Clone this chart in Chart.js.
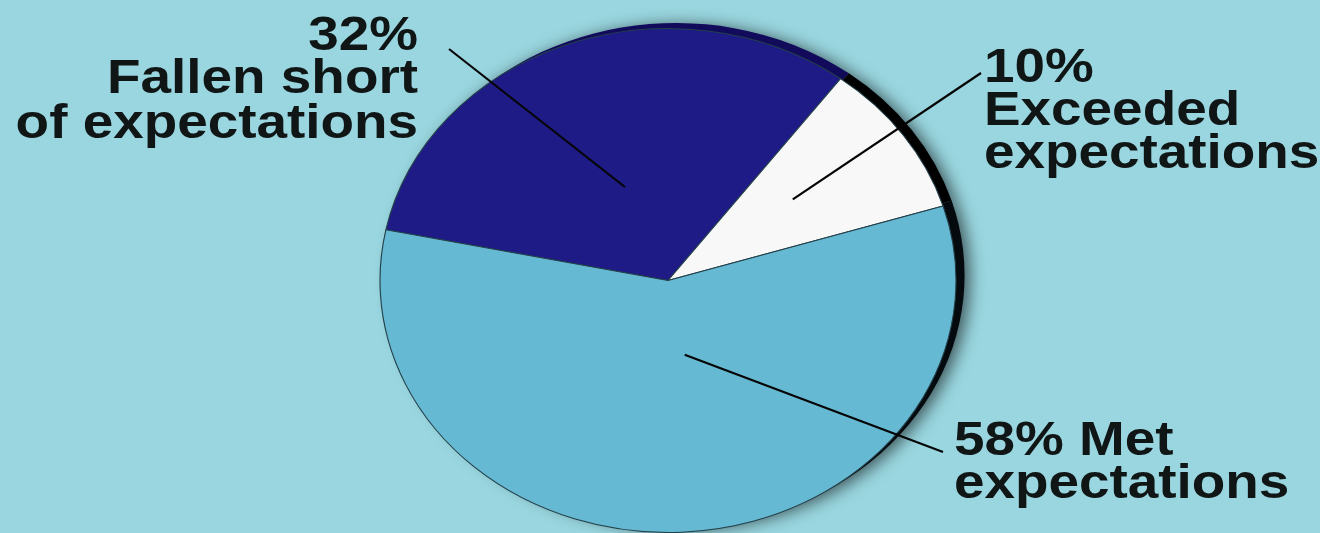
<!DOCTYPE html>
<html>
<head>
<meta charset="utf-8">
<script src="https://cdn.jsdelivr.net/npm/chart.js@4.4.1/dist/chart.umd.min.js"></script>
<style>
  html, body { margin: 0; padding: 0; background: #99d6df; overflow: hidden; }
  #wrap { width: 1320px; height: 533px; }
</style>
</head>
<body>
<div id="wrap"><canvas id="myChart" width="1320" height="533"></canvas></div>
<script>
// data
const categories = ["Fallen short of expectations", "Exceeded expectations", "Met expectations"];
const values = [32, 10, 58];
const labelLines = [["Fallen short", "of expectations"], ["Exceeded", "expectations"], ["Met", "expectations"]];

const sliceColors = ["#1e1a86", "#f8f8f8", "#66b9d3"];
const rimColors = ["#120b5c", "#000000", "#040a0d"];
const stretchX = 288 / 252; // the picture is wider than tall

// where each label sits and where its leader starts (screen px)
const labelLayout = [
  { x: 418, y: [50, 93, 138], align: "right", lineFrom: [449, 49], along: 0.49, depth: 0.40, inline: false },
  { x: 984, y: [82, 125, 168], align: "left", lineFrom: [981, 73], along: 0.46, depth: 0.54, inline: false },
  { x: 954, y: [455, 498], align: "left", lineFrom: [943, 452], along: 0.46, depth: 0.30, inline: true }
];

const ellipsePlugin = {
  id: "ellipse",
  beforeDatasetsDraw(chart) {
    const ctx = chart.ctx;
    const meta = chart.getDatasetMeta(0);
    const cx = meta.data[0].x, cy = meta.data[0].y;

    // dark rim + soft shadow behind the pie
    ctx.save();
    ctx.translate(cx, cy);
    ctx.scale(stretchX, 1);
    ctx.translate(-cx, -cy);
    ctx.shadowColor = "rgba(0,0,0,0.6)";
    ctx.shadowBlur = 16;
    ctx.shadowOffsetX = 5;
    ctx.shadowOffsetY = 2;
    meta.data.forEach((arc, i) => {
      const rx = arc.x + 8 / stretchX, ry = arc.y - 5;
      ctx.beginPath();
      ctx.moveTo(rx, ry);
      ctx.arc(rx, ry, arc.outerRadius + 0.5, arc.startAngle, arc.endAngle);
      ctx.closePath();
      ctx.fillStyle = rimColors[i];
      ctx.fill();
    });
    ctx.restore();

    ctx.save();
    ctx.translate(cx, cy);
    ctx.scale(stretchX, 1);
    ctx.translate(-cx, -cy);
  },
  afterDatasetsDraw(chart) {
    const ctx = chart.ctx;
    ctx.restore();
    const meta = chart.getDatasetMeta(0);

    meta.data.forEach((arc, i) => {
      const lay = labelLayout[i];
      const a = arc.startAngle + (arc.endAngle - arc.startAngle) * lay.along;
      const r = arc.outerRadius * lay.depth;
      const ex = arc.x + Math.cos(a) * r * stretchX;
      const ey = arc.y + Math.sin(a) * r;

      ctx.beginPath();
      ctx.moveTo(lay.lineFrom[0], lay.lineFrom[1]);
      ctx.lineTo(ex, ey);
      ctx.strokeStyle = "#050505";
      ctx.lineWidth = 2.2;
      ctx.stroke();

      let lines;
      if (lay.inline) lines = [values[i] + "% " + labelLines[i][0], labelLines[i][1]];
      else lines = [values[i] + "%"].concat(labelLines[i]);

      ctx.fillStyle = "#101515";
      ctx.font = "bold 48px 'Liberation Sans', Arial, sans-serif";
      ctx.textAlign = lay.align;
      ctx.textBaseline = "alphabetic";
      lines.forEach((t, k) => {
        ctx.save();
        ctx.translate(lay.x, lay.y[k]);
        ctx.scale(stretchX, 1);
        ctx.fillText(t, 0, 0);
        ctx.restore();
      });
    });
  }
};

const config = {
  type: "pie",
  data: {
    labels: categories,
    datasets: [{
      data: values,
      backgroundColor: sliceColors,
      borderColor: "#23404a",
      borderWidth: 1
    }]
  },
  options: {
    responsive: false,
    animation: false,
    rotation: -78.4,
    clip: false,
    layout: { padding: { left: 398, right: 382, top: 28, bottom: 0 } },
    plugins: { legend: { display: false }, tooltip: { enabled: false } }
  },
  plugins: [ellipsePlugin]
};

const chart = new Chart(document.getElementById("myChart"), config);
</script>
</body>
</html>
